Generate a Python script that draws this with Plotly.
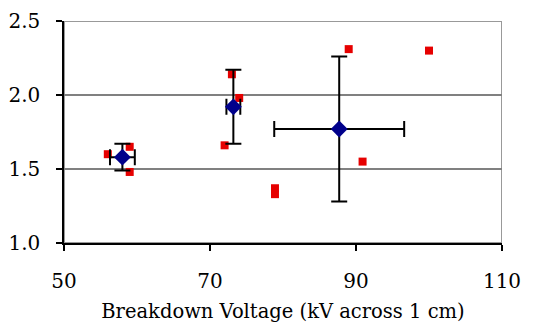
import plotly.graph_objects as go

# Individual measurements
ind_x = [56.0, 59.0, 59.0, 72.0, 73.0, 74.0, 78.9, 78.9, 89.0, 90.9, 100.0]
ind_y = [1.60, 1.65, 1.48, 1.66, 2.14, 1.98, 1.37, 1.33, 2.31, 1.55, 2.30]

# Group means with error bars
mean_x = [58.0, 73.2, 87.7]
mean_y = [1.58, 1.92, 1.77]
err_x = [1.7, 0.95, 8.9]
err_y = [0.09, 0.25, 0.49]

x_ticks = [50, 70, 90, 110]
y_ticks = [1.0, 1.5, 2.0, 2.5]

SERIF = "DejaVu Serif"

fig = go.Figure()
fig.add_trace(go.Scatter(
    x=ind_x, y=ind_y, mode="markers",
    marker=dict(symbol="square", size=8, color="#e60000", line=dict(width=0)),
    showlegend=False,
))
fig.add_trace(go.Scatter(
    x=mean_x, y=mean_y, mode="markers",
    marker=dict(symbol="diamond", size=13, color="#00008b", line=dict(width=0)),
    error_x=dict(type="data", array=err_x, visible=True, color="black", thickness=2, width=8),
    error_y=dict(type="data", array=err_y, visible=True, color="black", thickness=2, width=8),
    showlegend=False,
))

# gray frame (top/right)
fig.add_shape(type="rect", xref="x", yref="y", x0=50, x1=110, y0=1.0, y1=2.5,
              line=dict(color="#999999", width=2), layer="below")

fig.update_layout(
    width=534, height=324,
    margin=dict(l=64, r=32, t=21, b=81),
    paper_bgcolor="white", plot_bgcolor="white",
    font=dict(family=SERIF, size=20, color="black"),
)
fig.update_xaxes(
    range=[50, 110], tickvals=x_ticks, ticktext=[str(v) for v in x_ticks],
    tickfont=dict(family=SERIF, size=20),
    showgrid=False, zeroline=False, automargin=False,
    showline=True, linecolor="black", linewidth=1.5,
    ticks="outside", ticklen=6, tickcolor="black", tickwidth=1.5,
    ticklabelstandoff=13,
    title=dict(text="Breakdown Voltage (kV across 1 cm)", font=dict(family=SERIF, size=19.5), standoff=13),
)
fig.update_yaxes(
    range=[1.0, 2.5], tickvals=y_ticks, ticktext=[f"{v:.1f}" for v in y_ticks],
    tickfont=dict(family=SERIF, size=20),
    showgrid=True, gridcolor="#808080", gridwidth=1.5, zeroline=False, automargin=False,
    showline=True, linecolor="black", linewidth=1.5,
    ticks="outside", ticklen=6, tickcolor="black", tickwidth=1.5,
    ticklabelstandoff=12,
)

fig.write_html("out.html")
